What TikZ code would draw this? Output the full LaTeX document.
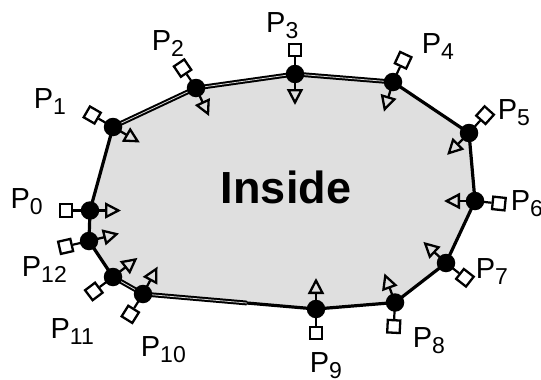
\documentclass[tikz,border=0pt]{standalone}
\usepackage{fontspec}
\setmainfont{Liberation Sans}
\usetikzlibrary{arrows.meta,calc}
\newcommand\plab[1]{P\raisebox{-6pt}{\fontsize{23}{23}\selectfont #1}}
\begin{document}
\begin{tikzpicture}[x=1pt,y=-1pt,
  dot/.style={circle,fill=black,minimum size=18.5pt,inner sep=0pt},
  sq/.style={draw=black,fill=white,line width=2.3pt,minimum size=12.5pt,inner sep=0pt},
  stem/.style={line width=2.2pt},
  tri/.style={line width=2.3pt,-{Triangle[open,length=16pt,width=16pt]}},
  edge/.style={line width=3.2pt},
  dedge/.style={line width=2pt,double=gray!30,double distance=0.8pt},
  lab/.style={inner sep=0pt,anchor=base west,font=\fontsize{29}{29}\selectfont},
  insidelab/.style={inner sep=0pt,anchor=base,font=\fontsize{45}{45}\selectfont\bfseries}]
\useasboundingbox (0,0) rectangle (541,380);
% vertices
\coordinate (c0) at (90,210.5);
\coordinate (c1) at (113,127);
\coordinate (c2) at (196,88);
\coordinate (c3) at (295,74);
\coordinate (c4) at (393,82);
\coordinate (c5) at (469,133);
\coordinate (c6) at (475,201);
\coordinate (c7) at (446,263);
\coordinate (c8) at (395,302.5);
\coordinate (c9) at (316,309);
\coordinate (c10) at (143,294);
\coordinate (c11) at (113,277);
\coordinate (c12) at (89,241);
% region
\fill[gray!25] (c0) -- (c1) -- (c2) -- (c3) -- (c4) -- (c5) -- (c6) -- (c7) -- (c8) -- (c9) -- (c10) -- (c11) -- (c12) -- cycle;
\node[insidelab] (inside) at (286,203) {Inside};
% edges
\draw[edge,line join=round] (c3) -- (c4) -- (c5) -- (c6) -- (c7) -- (c8) -- (c9) -- (c10);
\draw[edge,line join=round] (c10) -- (c11) -- (c12) -- (c0) -- (c1) -- (c2);
\draw[dedge] (c1) -- (c2);
\draw[dedge] (c2) -- (c3);
\draw[dedge] (c3) -- (c4);
\draw[dedge] (c11) -- (c10);
\draw[dedge] (c10) -- ($(c10)!0.6!(c9)$);
% markers: index / outward angle / inward angle
\foreach \i/\a/\b in {0/180/0, 1/150/-30, 2/124/-65, 3/90/-90, 4/65/-107, 5/48/-135,
  6/-6/180, 7/-38/137, 8/-93/110, 9/-90/90, 10/-122/62, 11/-143/38, 12/-167/14}{
  \coordinate (t\i) at ($(c\i)+({31*cos(\b)},{-31*sin(\b)})$);
  \draw[tri] (c\i) -- (t\i);
  \node[sq,rotate=\a] (s\i) at ($(c\i)+({24*cos(\a)},{-24*sin(\a)})$) {};
  \draw[stem] (c\i) -- (s\i);
  \node[dot] (p\i) at (c\i) {};
}
% labels
\node[lab] (l0) at (10.4,208) {\plab{0}};
\node[lab] (l1) at (33.7,108) {\plab{1}};
\node[lab] (l2) at (151.7,50) {\plab{2}};
\node[lab] (l3) at (266,32) {\plab{3}};
\node[lab] (l4) at (421.7,53) {\plab{4}};
\node[lab] (l5) at (497.7,119) {\plab{5}};
\node[lab] (l6) at (510.7,210) {\plab{6}};
\node[lab] (l7) at (475.7,278) {\plab{7}};
\node[lab] (l8) at (412.7,347) {\plab{8}};
\node[lab] (l9) at (309.7,372) {\plab{9}};
\node[lab] (l10) at (140.7,356) {\plab{10}};
\node[lab] (l11) at (50.4,338) {\plab{11}};
\node[lab] (l12) at (21.7,276) {\plab{12}};
\end{tikzpicture}
\end{document}
